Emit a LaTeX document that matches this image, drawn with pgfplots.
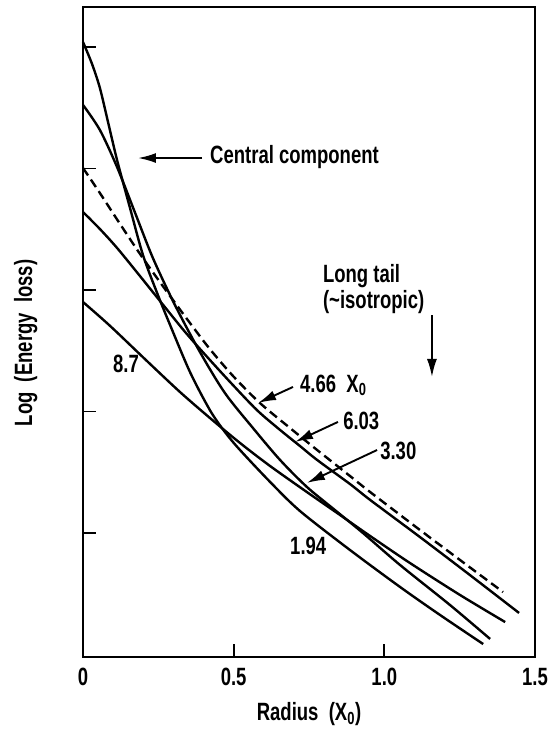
\documentclass[border=0pt]{standalone}
\usepackage{fontspec}
\setmainfont{Liberation Sans}[FakeStretch=0.74]
\usepackage{pgfplots}
\pgfplotsset{compat=1.18}
\usetikzlibrary{arrows.meta}
\begin{document}
\fontsize{25}{30}\selectfont\bfseries
\begin{tikzpicture}[every node/.append style={inner sep=0pt, font=\bfseries},
  arr/.style={line width=1.9pt,-{Latex[length=18pt,width=10pt]}}]
\begin{axis}[name=ax, scale only axis, width=452pt, height=650pt,
  xmin=0, xmax=1.5, ymin=-0.0206, ymax=5.329,
  clip=false,
  xtick={0,0.5,1,1.5}, xticklabels={0,0.5,1.0,1.5},
  ytick={1,2,3,4,5}, yticklabels={},
  tick pos=left, tick align=inside, major tick length=13pt,
  every tick/.style={line width=1.8pt, black},
  axis line style={line width=1.8pt},
  xticklabel style={inner sep=0pt, anchor=north, yshift=-11pt},
  /pgf/number format/assume math mode=true,
  no marks]
% 1.94
\addplot[line width=2.4pt, smooth, tension=0.5] coordinates {
(0,5.041) (0.030,4.86) (0.056,4.663) (0.083,4.383) (0.113,4.070) (0.156,3.675)
(0.199,3.288) (0.246,2.975) (0.289,2.712) (0.355,2.325) (0.421,2.012) (0.471,1.831)
(0.521,1.683) (0.621,1.420) (0.720,1.181) (0.886,0.860) (1.052,0.556) (1.185,0.325) (1.328,0.086)};
% 3.30
\addplot[line width=2.4pt, smooth, tension=0.5] coordinates {
(0,4.523) (0.056,4.317) (0.113,4.012) (0.173,3.634) (0.232,3.263) (0.305,2.877)
(0.388,2.490) (0.471,2.152) (0.564,1.864) (0.654,1.601) (0.743,1.379) (0.836,1.189)
(0.929,1.000) (1.052,0.737) (1.218,0.407) (1.351,0.128)};
% 4.66 (dashed)
\addplot[line width=2.4pt, smooth, tension=0.5, dash pattern=on 9pt off 5pt] coordinates {
(0,4.004) (0.056,3.798) (0.123,3.543) (0.196,3.272) (0.279,2.984) (0.355,2.728)
(0.421,2.514) (0.498,2.292) (0.587,2.070) (0.687,1.864) (0.777,1.683) (0.886,1.469)
(0.953,1.337) (1.118,1.025) (1.251,0.778) (1.394,0.514)};
% 6.03
\addplot[line width=2.4pt, smooth, tension=0.5] coordinates {
(0,3.642) (0.056,3.502) (0.113,3.346) (0.189,3.115) (0.266,2.877) (0.339,2.654)
(0.412,2.449) (0.488,2.243) (0.577,2.012) (0.654,1.848) (0.720,1.716) (0.777,1.601)
(0.886,1.403) (0.953,1.272) (1.118,0.967) (1.284,0.654) (1.447,0.342)};
% 8.7
\addplot[line width=2.4pt, smooth, tension=0.5] coordinates {
(0,2.901) (0.090,2.704) (0.212,2.416) (0.322,2.160) (0.421,1.947) (0.521,1.741)
(0.621,1.551) (0.743,1.337) (0.853,1.148) (0.953,0.975) (1.085,0.753) (1.251,0.490) (1.401,0.267)};
% annotations
\draw[arr] (axis cs:0.395,4.086) -- (axis cs:0.1825,4.086);
\node[anchor=base west] at (axis cs:0.4215,4.045) {Central component};
\node[anchor=base west] at (axis cs:0.796,3.058) {Long tail};
\node[anchor=base west] at (axis cs:0.796,2.844) {(\textasciitilde isotropic)};
\draw[arr] (axis cs:1.158,2.794) -- (axis cs:1.158,2.284);
\node[anchor=base west] at (axis cs:0.720,2.160) {4.66\ \ X\textsubscript{0}};
\draw[arr] (axis cs:0.697,2.202) -- (axis cs:0.581,2.070);
\node[anchor=base west] at (axis cs:0.863,1.848) {6.03};
\draw[arr] (axis cs:0.846,1.914) -- (axis cs:0.7036,1.749);
\node[anchor=base west] at (axis cs:0.986,1.601) {3.30};
\draw[arr] (axis cs:0.976,1.683) -- (axis cs:0.743,1.412);
\node[anchor=base west] at (axis cs:0.0996,2.317) {8.7};
\node[anchor=base west] at (axis cs:0.687,0.819) {1.94};
\node[anchor=base] at (axis cs:0.750,-0.547) {Radius\ \ (X\textsubscript{0})};
\node[anchor=base, rotate=90] at (axis cs:-0.169,2.564) {Log\ \ (Energy\ \ loss)};
\end{axis}
\pgfresetboundingbox
\path ([shift={(-83pt,-74pt)}]ax.south west) rectangle ([shift={(16pt,7pt)}]ax.north east);
\end{tikzpicture}
\end{document}
